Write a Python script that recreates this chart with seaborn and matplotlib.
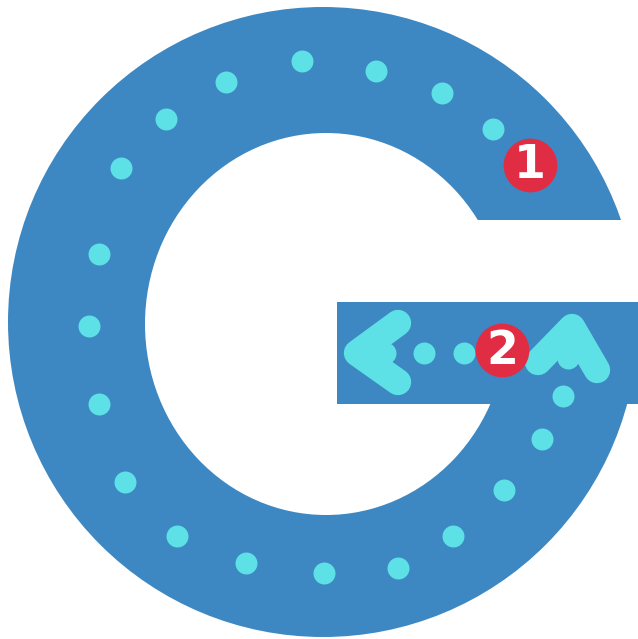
import pandas as pd
import matplotlib
matplotlib.use("Agg")
import matplotlib.pyplot as plt
import matplotlib.patches as mpatches
import seaborn as sns

sns.set_theme(style="white")
plt.rcParams['font.family'] = ['DejaVu Sans']

# path dots along the G (pixel-like coordinates, y down)
dot_x = [493, 442, 376, 302, 226, 166, 121, 99, 89, 99, 125, 177, 246, 324, 398, 453, 504, 542, 563, 568, 464, 424, 385]
dot_y = [129, 93, 71, 61, 82, 119, 168, 254, 326, 404, 482, 536, 563, 573, 568, 536, 490, 439, 396, 358, 353, 353, 353]

# numbered badges
badge_x = [530, 502]
badge_y = [165, 350]
badge_labels = ['1', '2']

# arrow heads
left_arrow_x = [398, 357, 398]
left_arrow_y = [323, 353, 382]
up_arrow_x = [538, 572, 597]
up_arrow_y = [362, 327, 370]

blue = '#3d88c2'
cyan = '#5ee1e6'
red = '#e02d44'

fig = plt.figure(figsize=(6.38, 6.39), dpi=100)
ax = fig.add_axes([0, 0, 1, 1])
ax.set_xlim(0, 638)
ax.set_ylim(639, 0)
ax.axis('off')

# the G letter
ax.add_patch(mpatches.Circle((323, 322), 315, color=blue, lw=0, zorder=1))
ax.add_patch(mpatches.Ellipse((326, 324), 362, 382, color='white', lw=0, zorder=2))
ax.add_patch(mpatches.Rectangle((330, 220), 320, 82, color='white', lw=0, zorder=3))
ax.add_patch(mpatches.Rectangle((337, 302), 310, 102, color=blue, lw=0, zorder=4))

df_dots = pd.DataFrame({'x': dot_x, 'y': dot_y})
sns.scatterplot(data=df_dots, x='x', y='y', s=250, color=cyan, linewidth=0, ax=ax, zorder=5)

for xs, ys in [(left_arrow_x, left_arrow_y), (up_arrow_x, up_arrow_y)]:
    df_arr = pd.DataFrame({'x': xs, 'y': ys})
    sns.lineplot(data=df_arr, x='x', y='y', sort=False, estimator=None, color=cyan,
                 linewidth=19, solid_capstyle='round', solid_joinstyle='round', ax=ax, zorder=5)

df_badge = pd.DataFrame({'x': badge_x, 'y': badge_y, 'label': badge_labels})
sns.scatterplot(data=df_badge, x='x', y='y', s=1500, color=red, linewidth=0, ax=ax, zorder=6)
for _, r in df_badge.iterrows():
    ax.text(r['x'], r['y'] + 1, r['label'], color='white', fontsize=33, fontweight='bold',
            ha='center', va='center', zorder=7)

ax.set_xlim(0, 638)
ax.set_ylim(639, 0)
ax.axis('off')
fig.savefig('out.png', dpi=100)
